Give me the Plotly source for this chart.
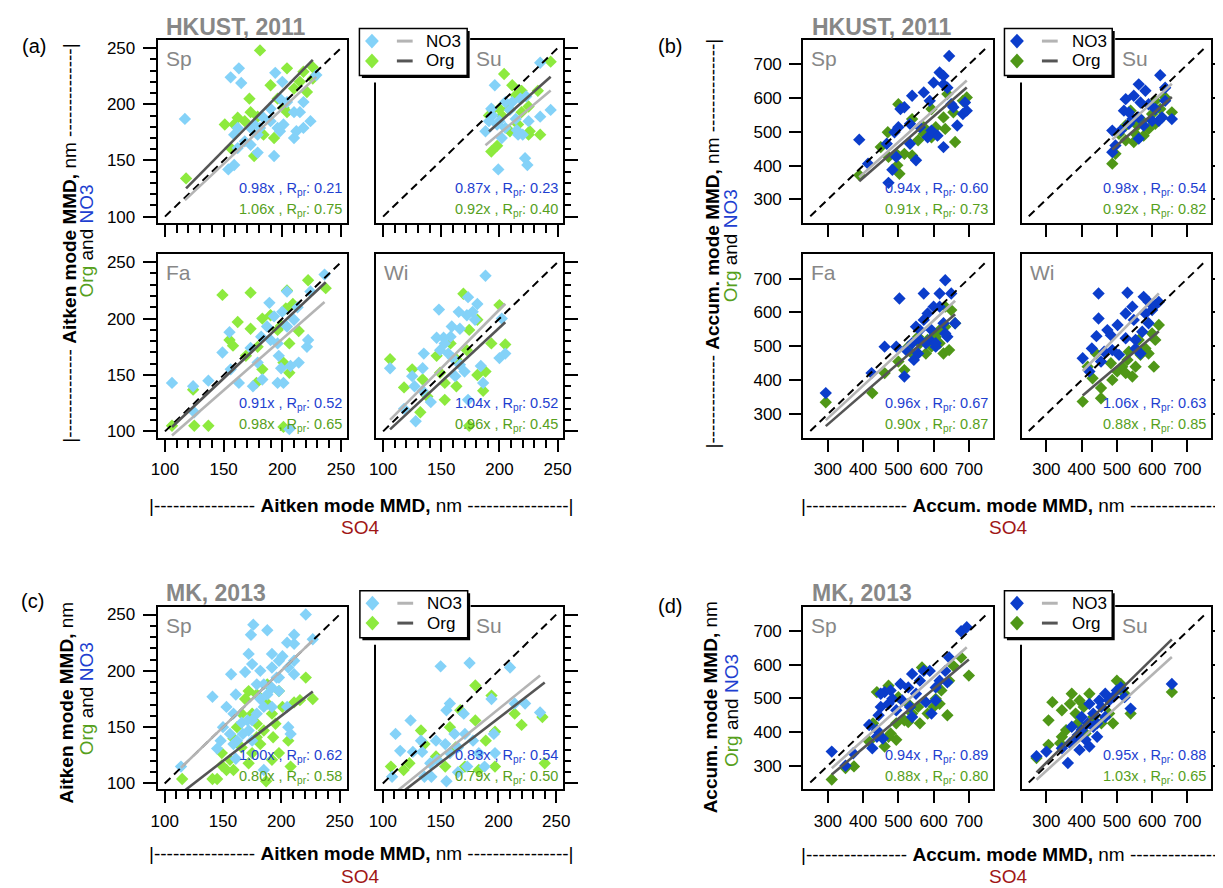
import plotly.graph_objects as go

# page body has an 8px margin: the figure is sized/offset so page pixels match the reference
OX, OY = 8, 8
W, H = 1215, 880
FONT = "Liberation Sans, Arial, sans-serif"

# ---------------- data: (SO4 MMD, NO3 or Org MMD) pairs ----------------
# (a) HKUST 2011, Aitken mode
a_sp_no3 = [(117,187),(156,224),(163,232),(165,219),(194,228),(200,220),(229,226),(159,173),(154,142),(159,146),(162,161),(168,167),(173,164),(179,157),(193,154),(176,182),(184,188),(190,196),(198,205),(204,202),(210,193),(215,193),(218,202),(224,185),(218,179),(210,170),(198,176),(201,182),(196,179),(190,185),(181,179),(173,179),(162,179),(212,176),(179,173)]
a_sp_org = [(118,134),(181,248),(204,232),(218,229),(226,233),(162,188),(172,205),(173,193),(179,189),(156,161),(159,182),(176,154),(190,217),(196,205),(204,193),(210,214),(221,211),(226,223),(193,170),(184,173),(168,185),(201,197),(215,220),(151,182)]
a_su_no3 = [(235,237),(196,217),(244,195),(235,189),(225,185),(220,173),(215,177),(205,202),(211,202),(218,205),(202,170),(194,190),(191,185),(188,176),(200,185),(205,179),(214,187),(222,152),(224,146),(199,142),(198,182),(216,173),(209,195),(223,207),(193,196)]
a_su_org = [(244,238),(204,227),(193,158),(198,163),(235,173),(226,176),(225,198),(233,212),(211,217),(219,212),(214,208),(200,196),(208,196),(194,195),(191,190),(209,176),(202,190),(219,193),(225,173),(216,182)]
a_fa_no3 = [(106,143),(124,140),(125,117),(137,145),(149,170),(155,188),(163,143),(156,155),(173,174),(189,214),(193,202),(187,193),(182,184),(179,161),(183,146),(190,181),(196,178),(197,167),(199,156),(196,143),(201,143),(207,158),(204,193),(210,199),(204,224),(214,161),(221,175),(222,181),(224,224),(236,239),(206,102),(213,210),(200,206),(175,140)]
a_fa_org = [(106,105),(125,105),(137,105),(124,137),(149,221),(155,181),(158,176),(173,223),(173,191),(169,167),(178,143),(183,200),(183,155),(190,203),(196,190),(199,194),(201,161),(203,209),(204,225),(206,152),(206,178),(209,213),(214,189),(222,234),(237,227),(201,104),(162,197),(179,175)]
a_wi_no3 = [(106,156),(188,238),(148,208),(165,206),(173,219),(181,213),(177,206),(172,203),(166,191),(158,184),(146,183),(152,183),(149,172),(156,169),(160,165),(166,159),(170,153),(162,149),(135,169),(134,156),(125,149),(127,140),(134,136),(141,126),(128,109),(118,120),(184,158),(186,143),(200,165),(205,169),(202,200),(179,199),(153,178),(173,128),(159,193)]
a_wi_org = [(106,164),(118,139),(125,155),(134,146),(132,117),(138,131),(146,167),(149,152),(153,143),(158,178),(163,140),(169,222),(172,172),(174,190),(181,199),(181,150),(188,153),(193,178),(200,212),(205,177),(174,105),(186,136),(153,128),(163,164)]

# (b) HKUST 2011, accumulation mode
b_sp_no3 = [(389,477),(414,406),(472,349),(483,388),(467,465),(489,499),(500,514),(506,568),(517,573),(539,607),(533,465),(550,416),(572,617),(589,592),(600,646),(583,484),(611,489),(628,455),(617,676),(628,666),(644,725),(639,631),(656,573),(667,519),(683,553),(694,563),(689,587),(650,582),(561,514),(594,504),(533,524),(494,426),(628,641)]
b_sp_org = [(389,372),(470,499),(500,582),(494,435),(497,401),(503,376),(472,426),(539,538),(539,430),(556,475),(572,494),(572,514),(594,568),(606,514),(628,543),(633,509),(639,612),(661,470),(683,592),(694,602),(656,558),(594,484),(517,435),(450,455)]
b_su_no3 = [(623,668),(562,641),(525,597),(548,607),(581,622),(567,587),(590,582),(609,568),(637,592),(628,543),(656,538),(619,533),(600,533),(576,519),(562,543),(544,538),(534,524),(511,504),(562,480),(487,504),(496,460),(487,440),(520,563),(534,558),(637,631)]
b_su_org = [(487,406),(496,435),(525,475),(539,563),(553,494),(576,489),(600,553),(609,524),(628,543),(637,602),(656,558),(572,533),(558,519),(590,509),(525,519),(623,568),(506,494),(609,592),(548,470)]
b_fa_no3 = [(294,362),(424,421),(461,499),(503,641),(517,411),(544,460),(556,479),(572,656),(583,597),(572,578),(561,548),(589,519),(606,499),(617,656),(633,695),(628,568),(639,528),(650,656),(661,568),(539,509),(550,558),(594,548),(600,617),(617,617),(494,499),(522,489),(578,509),(561,519),(606,509),(633,538)]
b_fa_org = [(294,335),(426,362),(461,421),(517,430),(500,455),(539,479),(561,509),(578,479),(594,499),(606,528),(617,509),(617,548),(628,479),(633,558),(650,607),(661,568),(633,617),(583,519),(556,528),(528,499),(644,489)]
b_wi_no3 = [(448,656),(448,582),(442,530),(429,494),(403,465),(422,426),(455,455),(464,484),(483,533),(502,563),(506,475),(530,658),(525,597),(544,617),(548,578),(525,524),(553,519),(572,543),(581,597),(576,646),(590,631),(600,607),(609,622),(590,568),(567,479),(487,489),(473,548),(553,494),(619,631)]
b_wi_org = [(403,337),(417,440),(431,406),(455,377),(455,347),(487,401),(501,426),(515,440),(525,421),(544,411),(530,460),(553,440),(567,475),(581,494),(590,479),(605,440),(609,519),(619,563),(600,538),(562,519),(534,484),(483,450),(441,479)]

# (c) MK 2013, Aitken mode
c_sp_no3 = [(114,115),(141,177),(150,150),(148,138),(145,131),(157,197),(161,179),(159,162),(166,154),(161,122),(169,199),(172,215),(174,232),(176,241),(188,236),(175,206),(179,188),(182,175),(185,168),(167,144),(172,147),(175,138),(162,138),(192,215),(192,203),(196,194),(198,209),(201,213),(205,225),(211,224),(211,232),(221,250),(227,228),(206,203),(211,197),(192,185),(198,182),(185,188),(188,179),(185,112),(206,150),(208,144),(205,168),(211,209),(179,162),(171,156),(153,168),(156,144),(159,135),(182,200),(192,168),(198,194),(175,156)]
c_sp_org = [(115,104),(141,104),(145,104),(149,116),(153,112),(159,112),(149,127),(159,140),(162,150),(166,162),(169,175),(172,182),(175,162),(179,141),(182,135),(185,147),(187,102),(188,171),(192,162),(193,141),(195,153),(198,182),(201,168),(206,138),(208,115),(211,172),(216,174),(221,194),(227,175),(175,127),(166,132),(172,118),(179,179),(188,188),(198,127),(192,121),(156,121),(179,153)]
c_su_no3 = [(111,144),(108,106),(115,129),(124,156),(126,128),(133,138),(134,128),(136,106),(142,106),(150,204),(155,165),(158,171),(154,135),(158,127),(155,102),(162,144),(165,132),(170,162),(175,207),(171,144),(173,115),(178,138),(183,127),(188,115),(194,175),(196,144),(197,127),(210,203),(214,171),(223,171),(236,163),(147,121),(141,118),(146,138),(165,110)]
c_su_org = [(107,115),(118,112),(123,118),(133,147),(136,135),(146,124),(154,115),(158,150),(180,187),(180,156),(189,138),(194,178),(197,146),(197,115),(214,162),(220,152),(238,159),(240,118),(171,115),(163,132),(183,112),(167,165)]

# (d) MK 2013, accumulation mode
d_sp_no3 = [(311,342),(350,300),(372,337),(417,421),(426,352),(439,406),(444,450),(450,475),(461,519),(478,524),(472,484),(456,381),(494,465),(511,494),(528,533),(539,573),(550,514),(561,553),(572,582),(578,489),(589,582),(594,455),(606,533),(617,553),(633,582),(639,548),(644,622),(678,700),(694,712),(450,514),(483,499),(506,543),(533,475),(606,494),(539,445),(439,386)]
d_sp_org = [(311,259),(350,293),(374,298),(417,372),(439,519),(472,538),(472,386),(478,396),(494,377),(461,357),(517,435),(528,430),(539,455),(556,475),(567,592),(583,455),(600,475),(606,499),(617,484),(622,524),(639,450),(644,553),(678,622),(700,568),(500,504),(528,484),(494,426),(561,426),(428,426),(656,597)]
d_su_no3 = [(272,328),(300,342),(361,308),(344,352),(367,367),(378,377),(389,391),(400,406),(411,377),(417,426),(422,484),(433,455),(444,426),(450,494),(456,475),(467,514),(478,494),(489,504),(500,524),(511,533),(522,504),(539,470),(656,543),(394,347),(422,357),(433,416),(400,445),(467,445),(372,416),(444,386)]
d_su_org = [(272,323),(306,362),(317,489),(306,435),(339,367),(344,465),(367,484),(372,514),(383,455),(394,494),(406,475),(422,514),(433,445),(456,426),(478,455),(489,426),(500,553),(511,543),(539,455),(656,519),(356,406),(411,396),(389,426),(522,514),(344,386)]

# fit slopes (y = k*x) and Pearson R
a_seasons = ["Sp", "Su", "Fa", "Wi"]
a_no3_slope = [0.98, 0.87, 0.91, 1.04]
a_no3_r = [0.21, 0.23, 0.52, 0.52]
a_org_slope = [1.06, 0.92, 0.98, 0.96]
a_org_r = [0.75, 0.40, 0.65, 0.45]
b_no3_slope = [0.94, 0.98, 0.96, 1.06]
b_no3_r = [0.60, 0.54, 0.67, 0.63]
b_org_slope = [0.91, 0.92, 0.90, 0.88]
b_org_r = [0.73, 0.82, 0.87, 0.85]
c_seasons = ["Sp", "Su"]
c_no3_slope = [1.00, 0.83]
c_no3_r = [0.62, 0.54]
c_org_slope = [0.80, 0.79]
c_org_r = [0.58, 0.50]
d_no3_slope = [0.94, 0.95]
d_no3_r = [0.89, 0.88]
d_org_slope = [0.88, 1.03]
d_org_r = [0.80, 0.65]

aitken_ticks = [100, 150, 200, 250]
accum_ticks = [300, 400, 500, 600, 700]
aitken_one = [100, 250]
accum_one = [250, 750]

# ---------------- styling ----------------
LIGHT_NO3, LIGHT_ORG = "#84D2F8", "#8DEA3E"
DARK_NO3, DARK_ORG = "#0B3DCB", "#4F9717"
LINE_NO3, LINE_ORG = "#B4B4B4", "#555555"
TXT_BLUE, TXT_GREEN = "#1E3FD0", "#56A01C"
SO4_RED = "#A01616"
GRAY = "#878787"

def PX(x):
    return (x - OX) / W

def PY(y):
    return 1 - (y - OY) / H

groups = {
    "a": dict(xr=[93.8, 254.8], yr=[94.1, 257.0], ticks=aitken_ticks, fine=True, light=True, one=aitken_one),
    "b": dict(xr=[230, 768], yr=[229.4, 771.5], ticks=accum_ticks, fine=False, light=False, one=accum_one),
    "c": dict(xr=[94.0, 256.0], yr=[94.7, 256.5], ticks=aitken_ticks, fine=True, light=True, one=aitken_one),
    "d": dict(xr=[230, 768], yr=[229.4, 771.5], ticks=accum_ticks, fine=False, light=False, one=accum_one),
}

L_A, R_A = (152.7, 344.3), (374.0, 564.0)
L_B, R_B = (807.4, 999.7), (1029.0, 1221.3)
T1, T2, T3 = (38.5, 222.7), (254.0, 439.0), (609.3, 792.8)

panels = [
    dict(g="a", no3=a_sp_no3, org=a_sp_org, i=0, seasons=a_seasons, xs=L_A, ys=T1, right=False, bottom=False),
    dict(g="a", no3=a_su_no3, org=a_su_org, i=1, seasons=a_seasons, xs=R_A, ys=T1, right=True, bottom=False),
    dict(g="a", no3=a_fa_no3, org=a_fa_org, i=2, seasons=a_seasons, xs=L_A, ys=T2, right=False, bottom=True),
    dict(g="a", no3=a_wi_no3, org=a_wi_org, i=3, seasons=a_seasons, xs=R_A, ys=T2, right=True, bottom=True),
    dict(g="b", no3=b_sp_no3, org=b_sp_org, i=0, seasons=a_seasons, xs=L_B, ys=T1, right=False, bottom=False),
    dict(g="b", no3=b_su_no3, org=b_su_org, i=1, seasons=a_seasons, xs=R_B, ys=T1, right=True, bottom=False),
    dict(g="b", no3=b_fa_no3, org=b_fa_org, i=2, seasons=a_seasons, xs=L_B, ys=T2, right=False, bottom=True),
    dict(g="b", no3=b_wi_no3, org=b_wi_org, i=3, seasons=a_seasons, xs=R_B, ys=T2, right=True, bottom=True),
    dict(g="c", no3=c_sp_no3, org=c_sp_org, i=0, seasons=c_seasons, xs=L_A, ys=T3, right=False, bottom=True),
    dict(g="c", no3=c_su_no3, org=c_su_org, i=1, seasons=c_seasons, xs=R_A, ys=T3, right=True, bottom=True),
    dict(g="d", no3=d_sp_no3, org=d_sp_org, i=0, seasons=c_seasons, xs=L_B, ys=T3, right=False, bottom=True),
    dict(g="d", no3=d_su_no3, org=d_su_org, i=1, seasons=c_seasons, xs=R_B, ys=T3, right=True, bottom=True),
]
fits = {
    "a": (a_no3_slope, a_no3_r, a_org_slope, a_org_r),
    "b": (b_no3_slope, b_no3_r, b_org_slope, b_org_r),
    "c": (c_no3_slope, c_no3_r, c_org_slope, c_org_r),
    "d": (d_no3_slope, d_no3_r, d_org_slope, d_org_r),
}

fig = go.Figure()
layout = dict(
    width=W, height=H, margin=dict(l=0, r=0, t=0, b=0),
    paper_bgcolor="white", plot_bgcolor="white", showlegend=False,
    font=dict(family=FONT, color="black"),
)
annotations = []
shapes = []

def ann(text, x, y, size, color="black", xa="center", ya="middle", angle=0, family=FONT):
    annotations.append(dict(text=text, x=PX(x), y=PY(y), xref="paper", yref="paper",
                            showarrow=False, xanchor=xa, yanchor=ya, textangle=angle,
                            font=dict(family=family, size=size, color=color)))

for k, p in enumerate(panels, start=1):
    g = groups[p["g"]]
    xid = "x" if k == 1 else f"x{k}"
    yid = "y" if k == 1 else f"y{k}"
    xname = "xaxis" if k == 1 else f"xaxis{k}"
    yname = "yaxis" if k == 1 else f"yaxis{k}"
    x0, x1 = p["xs"]
    y0, y1 = p["ys"]
    common = dict(showline=True, mirror=True, linecolor="black", linewidth=2,
                  showgrid=False, zeroline=False, ticks="outside", tickcolor="black",
                  tickwidth=1.5, tickmode="array", tickvals=g["ticks"],
                  tickfont=dict(family=FONT, size=17, color="black"), fixedrange=True)
    xa = dict(common, domain=[PX(x0), PX(x1)], range=g["xr"], anchor=yid,
              ticklen=12, showticklabels=p["bottom"], ticklabelstandoff=3)
    ya = dict(common, domain=[PY(y1), PY(y0)], range=g["yr"], anchor=xid,
              ticklen=13, side="right" if p["right"] else "left",
              showticklabels=not p["right"], ticklabelstandoff=4)
    if g["fine"]:
        xa["minor"] = dict(ticks="outside", tick0=100, dtick=10, ticklen=8,
                           tickcolor="black", tickwidth=1.5, showgrid=False)
        ya["minor"] = dict(ticks="outside", tick0=100, dtick=10, ticklen=6,
                           tickcolor="black", tickwidth=1.5, showgrid=False)
    else:
        xa["ticklen"] = 12
        ya["ticklen"] = 12
    layout[xname] = xa
    layout[yname] = ya

    c_no3 = LIGHT_NO3 if g["light"] else DARK_NO3
    c_org = LIGHT_ORG if g["light"] else DARK_ORG
    ks_n, rs_n, ks_o, rs_o = fits[p["g"]]
    i = p["i"]
    for data, col in ((p["org"], c_org), (p["no3"], c_no3)):
        fig.add_trace(go.Scatter(x=[v[0] for v in data], y=[v[1] for v in data], mode="markers",
                                 xaxis=xid, yaxis=yid,
                                 marker=dict(symbol="diamond", size=9.5, color=col, line=dict(width=0))))
    fig.add_trace(go.Scatter(x=g["one"], y=g["one"], mode="lines", xaxis=xid, yaxis=yid,
                             line=dict(color="black", width=2, dash="8px,5px")))
    for data, kk, col in ((p["no3"], ks_n[i], LINE_NO3), (p["org"], ks_o[i], LINE_ORG)):
        xs = [v[0] for v in data]
        lx = [min(xs), max(xs)]
        fig.add_trace(go.Scatter(x=lx, y=[kk * v for v in lx], mode="lines", xaxis=xid, yaxis=yid,
                                 line=dict(color=col, width=2.6)))
    # season label (Su panels sit to the right of the legend box)
    season = p["seasons"][i]
    sx = x0 + 100 if (p["right"] and i == 1) else x0 + 6
    ann(season, sx, y0 + 18, 21, GRAY, xa="left")
    # fit statistics
    ann(f"{ks_n[i]:.2f}x , R<sub>pr</sub>: {rs_n[i]:.2f}", x1 - 3, y1 - 34, 14.5, TXT_BLUE, xa="right")
    ann(f"{ks_o[i]:.2f}x , R<sub>pr</sub>: {rs_o[i]:.2f}", x1 - 3, y1 - 13, 14.5, TXT_GREEN, xa="right")

# ---------------- legends (drawn as shapes) ----------------
def legend(x0, y0, light, cover_bottom):
    w, h = 109.3, 47.3
    shapes.append(dict(type="rect", xref="paper", yref="paper", x0=PX(x0), x1=PX(x0 + w + 3),
                       y0=PY(cover_bottom), y1=PY(y0 - 1), fillcolor="white", line=dict(width=0)))
    shapes.append(dict(type="rect", xref="paper", yref="paper", x0=PX(x0 + 2.5), x1=PX(x0 + w + 2.5),
                       y0=PY(y0 + h + 2.5), y1=PY(y0 + 2.5), fillcolor="black", line=dict(width=0)))
    shapes.append(dict(type="rect", xref="paper", yref="paper", x0=PX(x0), x1=PX(x0 + w),
                       y0=PY(y0 + h), y1=PY(y0), fillcolor="white", line=dict(color="black", width=1.5)))
    for dy, mc, lc, lab in ((12.6, LIGHT_NO3 if light else DARK_NO3, LINE_NO3, "NO3"),
                            (32.6, LIGHT_ORG if light else DARK_ORG, LINE_ORG, "Org")):
        cx, cy = x0 + 12.7, y0 + dy
        path = (f"M {PX(cx-7)},{PY(cy)} L {PX(cx)},{PY(cy-7.5)} L {PX(cx+7)},{PY(cy)} "
                f"L {PX(cx)},{PY(cy+7.5)} Z")
        shapes.append(dict(type="path", xref="paper", yref="paper", path=path,
                           fillcolor=mc, line=dict(width=0)))
        shapes.append(dict(type="line", xref="paper", yref="paper", x0=PX(x0 + 38), x1=PX(x0 + 54),
                           y0=PY(cy), y1=PY(cy), line=dict(color=lc, width=3)))
        ann(lab, x0 + 66, cy, 17, "black", xa="left")

legend(357.3, 26.7, True, 81)
legend(1011.5, 26.7, False, 81)
legend(357.8, 592.7, True, 647)
legend(1011.5, 592.7, False, 647)

# ---------------- texts ----------------
ann("(a)", 27, 44, 20)
ann("(b)", 672, 44, 20)
ann("(c)", 26, 603, 20)
ann("(d)", 672, 608, 20)
ann("<b>HKUST, 2011</b>", 159, 25, 23, GRAY, xa="left")
ann("<b>HKUST, 2011</b>", 814, 25, 23, GRAY, xa="left")
ann("<b>MK, 2013</b>", 159, 595, 23, GRAY, xa="left")
ann("<b>MK, 2013</b>", 814, 595, 23, GRAY, xa="left")

orgno3 = f"<span style='color:{TXT_GREEN}'>Org</span> and <span style='color:{TXT_BLUE}'>NO3</span>"
dash_x = "-" * 16
ann(f"|{dash_x} <b>Aitken mode MMD,</b> nm {dash_x}|", 359, 507, 19)
ann("SO4", 358, 529, 19, SO4_RED)
ann(f"|{dash_x} <b>Accum. mode MMD,</b> nm {dash_x}", 803, 507, 19, xa="left")
ann("SO4", 1015, 529, 19, SO4_RED)
ann(f"|{dash_x} <b>Aitken mode MMD,</b> nm {dash_x}|", 359, 857, 19)
ann("SO4", 358, 880, 19, SO4_RED)
ann(f"|{dash_x} <b>Accum. mode MMD,</b> nm {dash_x}", 803, 858, 19, xa="left")
ann("SO4", 1015, 880, 19, SO4_RED)

dash_y = "-" * 14
ann(f"|{dash_y} <b>Aitken mode MMD,</b> nm {dash_y}|", 63, 243, 19, angle=-90)
ann(orgno3, 80, 240, 19, angle=-90)
ann(f"|{dash_y} <b>Accum. mode MMD,</b> nm {dash_y}|", 715, 243, 19, angle=-90)
ann(orgno3, 734, 245, 19, angle=-90)
ann("<b>Aitken mode MMD,</b> nm", 60, 705, 19, angle=-90)
ann(orgno3, 80, 701, 19, angle=-90)
ann("<b>Accum. mode MMD,</b> nm", 713, 710, 19, angle=-90)
ann(orgno3, 734, 713, 19, angle=-90)

layout["annotations"] = annotations
layout["shapes"] = shapes
fig.update_layout(**layout)
fig.write_html("out.html")
